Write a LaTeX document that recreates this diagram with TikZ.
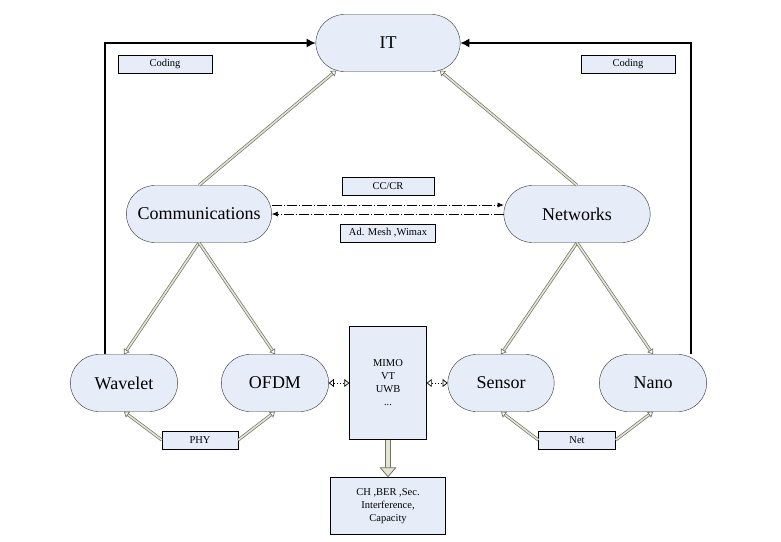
\documentclass[tikz,border=0pt]{standalone}
\usepackage{fontspec}
\setmainfont{Liberation Serif}
\usetikzlibrary{arrows.meta,positioning,shapes.misc}
\definecolor{nodefill}{RGB}{230,236,248}
\definecolor{pipe}{RGB}{115,115,100}
\definecolor{pipefill}{RGB}{226,228,212}
\tikzset{
  topic/.style={rounded rectangle,draw=black!80,fill=nodefill,minimum height=57pt,
    font=\fontsize{18}{20}\selectfont},
  tag/.style={rectangle,draw=black,fill=nodefill,minimum height=18pt,inner sep=1pt,
    font=\fontsize{10.5}{12}\selectfont},
  block/.style={rectangle,draw=black,fill=nodefill,align=center,
    font=\fontsize{10.5}{13}\selectfont},
  feed/.style={draw=pipe,double=pipefill,double distance=1.6pt,line width=0.7pt,
    -{Triangle[open,length=5pt,width=7pt]}},
  loopback/.style={draw=black,line width=1.3pt,-{Latex[length=9pt,width=9pt]}},
  link/.style={line width=0.6pt,dash pattern=on 10pt off 2pt on 1pt off 2pt,
    -{Latex[length=6pt,width=5pt]}},
  peer/.style={line width=0.7pt,dash pattern=on 1pt off 2pt,
    {Triangle[open,length=5pt,width=8pt]}-{Triangle[open,length=5pt,width=8pt]}},
  drop/.style={draw=pipe,double=pipefill,double distance=4.5pt,line width=0.8pt,
    -{Triangle[open,length=10pt,width=17pt,fill=pipefill]}}
}

\begin{document}
\begin{tikzpicture}[x=1pt,y=-1pt,on grid]
   \useasboundingbox (0,0) rectangle (781,541);
   \node[topic,minimum width=151pt] (IT) at (388,43) {IT};
   \node[topic,minimum width=152pt] (comms) [below left=171pt and 189pt of IT] {Communications};
   \node[topic,minimum width=153pt] (networks) [right=378pt of comms] {Networks};
   \node[topic,minimum width=114pt] (wavelet) [below left=169pt and 75pt of comms] {Wavelet};
   \node[topic,minimum width=114pt] (ofdm) [right=151pt of wavelet] {OFDM};
   \node[topic,minimum width=113pt] (sensor) [below left=169pt and 76pt of networks] {Sensor};
   \node[topic,minimum width=114pt] (nano) [right=152pt of sensor] {Nano};
   \node[block,minimum width=77pt,minimum height=113pt] (tech) [below=340pt of IT] {MIMO\\VT\\UWB\\...};
   \node[block,minimum width=115pt,minimum height=57pt] (metrics) [below=123pt of tech] {CH ,BER ,Sec.\\Interference,\\Capacity};
   % labels on the links
   \node[tag,minimum width=94pt] (codingL) [below left=21pt and 223pt of IT] {Coding};
   \node[tag,minimum width=94pt] (codingR) [below right=21pt and 240pt of IT] {Coding};
   \node[tag,minimum width=92pt] (cccr) at (388,186) {CC/CR};
   \node[tag,minimum width=95pt] (mesh) at (388,233) {Ad. Mesh ,Wimax};
   \node[tag,minimum width=76pt] (phy) [below right=57pt and 76pt of wavelet] {PHY};
   \node[tag,minimum width=77pt] (netbox) [below right=57pt and 76pt of sensor] {Net};
   % links
   \draw[loopback] ([xshift=-19pt]wavelet.north) |- (IT.west);
   \draw[loopback] ([xshift=38pt]nano.north) |- (IT.east);
   \draw[feed] (comms.north) -- (IT.208);
   \draw[feed] (networks.north) -- (IT.332);
   \draw[feed] (comms.south) -- (wavelet.north);
   \draw[feed] (comms.south) -- (ofdm.north);
   \draw[feed] (networks.south) -- (sensor.north);
   \draw[feed] (networks.south) -- (nano.north);
   \draw[feed] (phy.west) -- (wavelet.south);
   \draw[feed] (phy.east) -- (ofdm.south);
   \draw[feed] (netbox.west) -- (sensor.south);
   \draw[feed] (netbox.east) -- (nano.south);
   \draw[link] ([yshift=9pt]comms.east) -- ([yshift=9pt]networks.west);
   \draw[link] (networks.west) -- (comms.east);
   \draw[peer] (ofdm.east) -- (tech.west);
   \draw[peer] (tech.east) -- (sensor.west);
   \draw[drop] (tech.south) -- (metrics.north);
\end{tikzpicture}
\end{document}
